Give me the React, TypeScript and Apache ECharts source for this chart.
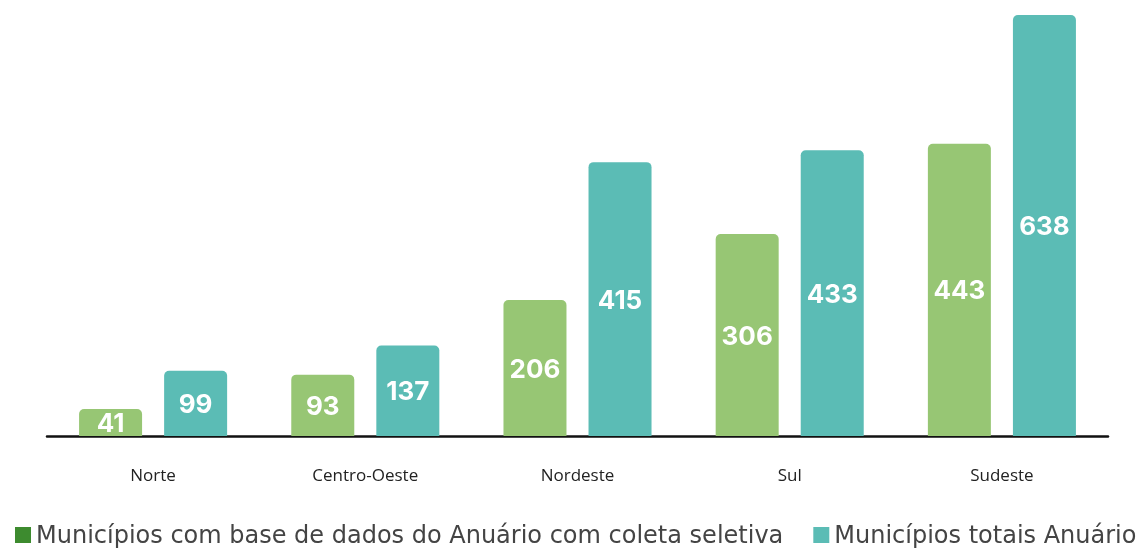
import React, { useEffect, useRef } from "react";
import * as echarts from "echarts";

const categories = ["Norte", "Centro-Oeste", "Nordeste", "Sul", "Sudeste"];
const seriesNames = [
  "Municípios com base de dados do Anuário com coleta seletiva",
  "Municípios totais Anuário",
];
const coletaSeletiva = [41, 93, 206, 306, 443];
const totaisAnuario = [99, 137, 415, 433, 638];

export default function App() {
  const ref = useRef<HTMLDivElement>(null);
  useEffect(() => {
    const chart = echarts.init(ref.current!, undefined, { renderer: "svg" });
    const labelStyle = {
      show: true,
      position: "inside" as const,
      color: "#ffffff",
      fontSize: 26,
      fontWeight: "bold" as const,
      fontFamily: "Inter, sans-serif",
    };
    chart.setOption({
      animation: false,
      grid: { left: 47, right: 40, top: 15, bottom: 113, containLabel: false },
      legend: {
        left: 10,
        top: 516,
        itemWidth: 16,
        itemHeight: 16,
        itemGap: 30,
        itemTextGap: 8,
        icon: "rect",
        textStyle: {
          fontSize: 24,
          lineHeight: 28,
          color: "#444444",
          fontFamily: "'DejaVu Sans', sans-serif",
        },
        data: [
          { name: seriesNames[0], itemStyle: { color: "#3d8b2f" } },
          { name: seriesNames[1], itemStyle: { color: "#5bbcb5" } },
        ],
      },
      xAxis: {
        type: "category",
        data: categories,
        axisLine: { show: true, lineStyle: { color: "#111111", width: 2.5 } },
        axisTick: { show: false },
        axisLabel: {
          margin: 30,
          fontSize: 17,
          color: "#222222",
          fontFamily: "'Open Sans', sans-serif",
        },
      },
      yAxis: {
        type: "value",
        min: 0,
        max: 638,
        show: false,
        splitLine: { show: false },
      },
      series: [
        {
          name: seriesNames[0],
          type: "bar",
          data: coletaSeletiva,
          barWidth: 63,
          barGap: "35%",
          itemStyle: { color: "#97c674", borderRadius: [5, 5, 0, 0] },
          label: labelStyle,
        },
        {
          name: seriesNames[1],
          type: "bar",
          data: totaisAnuario,
          barWidth: 63,
          itemStyle: { color: "#5bbcb5", borderRadius: [5, 5, 0, 0] },
          label: labelStyle,
        },
      ],
    });
    return () => chart.dispose();
  }, []);
  return (
    <div
      ref={ref}
      style={{ position: "fixed", left: 0, top: 0, width: 1148, height: 549 }}
    />
  );
}
